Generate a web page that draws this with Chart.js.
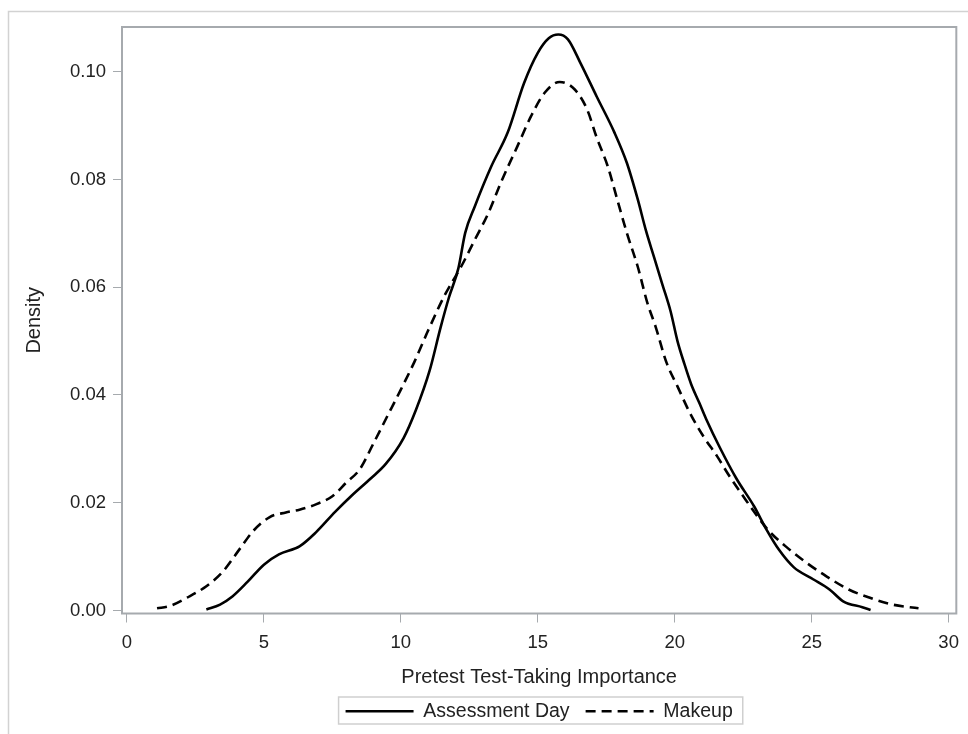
<!DOCTYPE html>
<html>
<head>
<meta charset="utf-8">
<script src="https://cdn.jsdelivr.net/npm/chart.js@4/dist/chart.umd.min.js"></script>
<style>
  body { margin: 0; background: #fff; }
  canvas { display: block; }
</style>
</head>
<body>
<canvas id="densityChart" width="968" height="734"></canvas>
<script>
// ── Data ──
const assessX = [2.9, 3.4, 3.85, 4.4, 5.0, 5.55, 6.3, 6.9, 7.6, 8.2, 8.9, 9.45, 10.1, 10.55, 11.05, 11.45, 11.75, 12.1, 12.35, 12.7, 13.3, 13.9, 14.5, 15.0, 15.4, 15.75, 16.1, 16.55, 17.15, 17.8, 18.25, 18.65, 18.95, 19.25, 19.55, 19.85, 20.1, 20.35, 20.6, 20.9, 21.15, 21.65, 22.25, 22.9, 23.35, 23.8, 24.35, 25.05, 25.65, 26.15, 26.85, 27.15];
const assessY = [0.0002, 0.0011, 0.0026, 0.0053, 0.0085, 0.0104, 0.0119, 0.0145, 0.0183, 0.0213, 0.0245, 0.0272, 0.032, 0.0372, 0.0445, 0.0525, 0.058, 0.0635, 0.0701, 0.075, 0.0824, 0.0887, 0.0979, 0.1035, 0.1062, 0.1069, 0.106, 0.1017, 0.0954, 0.0887, 0.0831, 0.0763, 0.0705, 0.0655, 0.0605, 0.0555, 0.05, 0.0458, 0.042, 0.0385, 0.0355, 0.0302, 0.0245, 0.0193, 0.015, 0.0113, 0.008, 0.0058, 0.0039, 0.0017, 0.0006, 0.0001];

const makeupX = [1.1, 1.55, 2.2, 2.9, 3.5, 4.1, 4.6, 5.2, 5.8, 6.3, 6.9, 7.5, 8.0, 8.5, 9.0, 9.5, 10.0, 10.5, 11.0, 11.6, 12.2, 12.7, 13.2, 13.65, 14.25, 14.75, 15.25, 15.8, 16.35, 16.8, 17.15, 17.55, 17.9, 18.25, 18.65, 19.0, 19.3, 19.7, 20.1, 20.55, 21.05, 21.55, 22.0, 22.5, 23.0, 23.45, 24.05, 24.8, 25.55, 26.35, 27.1, 27.95, 28.9];
const makeupY = [0.0004, 0.0008, 0.0024, 0.0045, 0.0072, 0.0113, 0.0147, 0.0173, 0.0182, 0.0187, 0.0197, 0.0212, 0.0237, 0.0262, 0.031, 0.036, 0.041, 0.0462, 0.052, 0.0585, 0.0638, 0.0688, 0.0738, 0.0794, 0.0861, 0.0917, 0.0961, 0.0981, 0.0967, 0.093, 0.0878, 0.0825, 0.0763, 0.0701, 0.0638, 0.0571, 0.0527, 0.046, 0.0416, 0.0367, 0.0323, 0.0286, 0.0249, 0.0212, 0.0176, 0.0147, 0.0119, 0.0089, 0.0063, 0.0039, 0.0024, 0.0011, 0.0004];

const seriesNames = ['Assessment Day', 'Makeup'];
const seriesDash = [[], [10, 6]];
const xTickValues = [0, 5, 10, 15, 20, 25, 30];
const yTickValues = [0, 0.02, 0.04, 0.06, 0.08, 0.10];
const xTitle = 'Pretest Test-Taking Importance';
const yTitle = 'Density';

// ── Look ──
const FONT = "'Liberation Sans', Arial, sans-serif";
const TEXT = '#222';
const FRAME = '#a6aaae';
const LINE_W = 2.6;
Chart.defaults.font.family = FONT;
Chart.defaults.color = TEXT;

const toPoints = (xs, ys) => xs.map((x, i) => ({ x, y: ys[i] }));

// ── Frame, outer border, legend box ──
const framePlugin = {
    id: 'frame',
    beforeDraw(chart) {
        const { ctx, chartArea: ca, legend } = chart;
        ctx.save();
        ctx.strokeStyle = '#d2d2d2';
        ctx.lineWidth = 1.5;
        ctx.strokeRect(8.5, 11.5, 980, 740);
        ctx.restore();
        // centre the legend under the plot area
        if (legend) { legend.left = ca.left; legend.right = ca.right; }
    },
    afterDraw(chart) {
        const { ctx, chartArea: ca, legend } = chart;
        ctx.save();
        ctx.strokeStyle = FRAME;
        ctx.lineWidth = 2;
        ctx.strokeRect(ca.left, ca.top, ca.right - ca.left, ca.bottom - ca.top);
        if (legend && legend.lineWidths) {
            const pad = legend.options.labels.padding;
            const lw = legend.lineWidths[0];
            const x0 = (legend.left + pad + legend.right - lw) / 2;
            const x1 = x0 + lw - pad;
            const cy = legend.top + pad + 9.5;
            ctx.strokeStyle = '#cfcfcf';
            ctx.lineWidth = 1.5;
            ctx.strokeRect(x0 - 7, cy - 14, x1 - x0 + 17, 27);
        }
        ctx.restore();
    }
};

// ── Chart ──
new Chart(document.getElementById('densityChart').getContext('2d'), {
    type: 'line',
    data: {
        datasets: [
            { label: seriesNames[0], data: toPoints(assessX, assessY), borderColor: '#000', borderWidth: LINE_W, borderDash: seriesDash[0], pointRadius: 0, cubicInterpolationMode: 'monotone', fill: false },
            { label: seriesNames[1], data: toPoints(makeupX, makeupY), borderColor: '#000', borderWidth: LINE_W, borderDash: seriesDash[1], pointRadius: 0, cubicInterpolationMode: 'monotone', fill: false }
        ]
    },
    options: {
        responsive: false,
        animation: false,
        layout: { padding: { top: 27, right: 7, bottom: 3, left: 0 } },
        plugins: {
            tooltip: { enabled: false },
            legend: {
                position: 'bottom',
                labels: {
                    usePointStyle: true, pointStyle: 'line', pointStyleWidth: 68, padding: 16, color: TEXT, font: { size: 19.5 },
                    // point-style legend drops the dash, so put it back
                    generateLabels: chart => Chart.defaults.plugins.legend.labels.generateLabels(chart).map((item, i) => ({
                        ...item, lineDash: seriesDash[i], lineWidth: LINE_W, strokeStyle: '#000'
                    }))
                }
            }
        },
        scales: {
            x: {
                type: 'linear', min: -0.18, max: 30.28,
                afterBuildTicks: s => { s.ticks = xTickValues.map(v => ({ value: v })); },
                afterFit: s => { s.height = 72; },
                border: { display: false },
                grid: { drawOnChartArea: false, drawTicks: true, tickLength: 9, color: FRAME },
                ticks: { font: { size: 18.5 }, padding: 9, color: TEXT, maxRotation: 0 },
                title: { display: true, text: xTitle, font: { size: 20 }, color: TEXT, padding: { top: 0, bottom: -3.5 } }
            },
            y: {
                type: 'linear', min: -0.00056, max: 0.1083,
                afterBuildTicks: s => { s.ticks = yTickValues.map(v => ({ value: v })); },
                afterFit: s => { s.width = 122; },
                border: { display: false },
                grid: { drawOnChartArea: false, drawTicks: true, tickLength: 9, color: FRAME },
                ticks: { font: { size: 18.5 }, padding: 7, color: TEXT, callback: v => Number(v).toFixed(2) },
                title: { display: true, text: yTitle, font: { size: 20 }, color: TEXT, padding: { top: 22, bottom: 0 } }
            }
        }
    },
    plugins: [framePlugin]
});
</script>
</body>
</html>
